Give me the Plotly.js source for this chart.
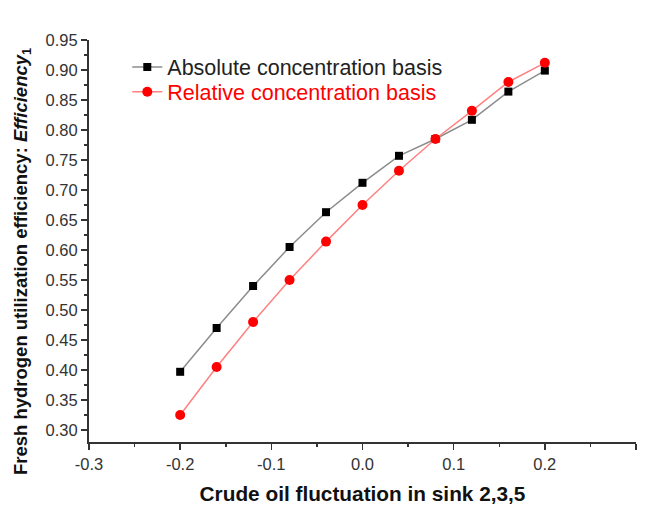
<!DOCTYPE html>
<html>
<head>
<meta charset="utf-8">
<script src="https://cdn.plot.ly/plotly-3.0.1.min.js"></script>
<style>
  html, body { margin: 0; padding: 0; background: #fff; }
  #chart { width: 647px; height: 511px; }
</style>
</head>
<body>
<div id="chart"></div>
<script>
const xValues = [-0.2, -0.16, -0.12, -0.08, -0.04, 0, 0.04, 0.08, 0.12, 0.16, 0.2];
const absoluteBasis = [0.397, 0.470, 0.540, 0.605, 0.663, 0.712, 0.757, 0.785, 0.817, 0.864, 0.899];
const relativeBasis = [0.325, 0.405, 0.480, 0.550, 0.614, 0.675, 0.732, 0.785, 0.832, 0.880, 0.912];
const seriesNames = ['Absolute concentration basis', 'Relative concentration basis'];
const xTickValues = [-0.3, -0.2, -0.1, 0, 0.1, 0.2, 0.3];
const xTickLabels = ['-0.3', '-0.2', '-0.1', '0.0', '0.1', '0.2', '0.3'];
const xTitle = 'Crude oil fluctuation in sink 2,3,5';
const yTitle = '<b>Fresh hydrogen utilization efficiency: <i>Efficiency</i><sub>1</sub></b>';

const FONT = 'Arial, "Liberation Sans", sans-serif';

const traces = [
  {
    x: xValues, y: absoluteBasis, type: 'scatter', mode: 'lines+markers',
    name: seriesNames[0], legend: 'legend',
    line: { color: '#8c8c8c', width: 1.5 },
    marker: { symbol: 'square', size: 8, color: '#000000' }
  },
  {
    x: xValues, y: relativeBasis, type: 'scatter', mode: 'lines+markers',
    name: seriesNames[1], legend: 'legend2',
    line: { color: '#ff8080', width: 1.5 },
    marker: { symbol: 'circle', size: 10, color: '#ff0000' }
  }
];

const axisCommon = {
  showgrid: false, zeroline: false, showline: true,
  linecolor: '#333', linewidth: 2,
  ticks: 'outside', ticklen: 6, tickwidth: 1.5, tickcolor: '#333',
  tickfont: { family: FONT, size: 16.5, color: '#333' }
};

const legendCommon = {
  x: 0.07, xanchor: 'left', yanchor: 'middle',
  bgcolor: 'rgba(0,0,0,0)', borderwidth: 0
};

const layout = {
  width: 647, height: 511,
  margin: { l: 89, r: 11, t: 40, b: 69 },
  paper_bgcolor: '#fff', plot_bgcolor: '#fff',
  font: { family: FONT },
  showlegend: true,
  legend: Object.assign({}, legendCommon, {
    y: 0.933, font: { family: FONT, size: 21.5, color: '#222' }
  }),
  legend2: Object.assign({}, legendCommon, {
    y: 0.871, font: { family: FONT, size: 21.5, color: '#ff0000' }
  }),
  xaxis: Object.assign({}, axisCommon, {
    range: [-0.3, 0.3], tickmode: 'array', tickvals: xTickValues, ticktext: xTickLabels,
    minor: { dtick: 0.05, tick0: -0.3, ticks: 'outside', ticklen: 3, tickwidth: 1.5, tickcolor: '#333', showgrid: false },
    title: { text: '<b>' + xTitle + '</b>', font: { family: FONT, size: 20.8, color: '#111' }, standoff: 15 }
  }),
  yaxis: Object.assign({}, axisCommon, {
    range: [0.28, 0.95], tick0: 0.3, dtick: 0.05, tickformat: '.2f',
    minor: { dtick: 0.025, ticks: 'outside', ticklen: 3, tickwidth: 1.5, tickcolor: '#333', showgrid: false }
  }),
  annotations: [{
    text: yTitle, xref: 'paper', yref: 'paper',
    x: -0.1225, y: 0.45, xanchor: 'center', yanchor: 'middle',
    textangle: -90, showarrow: false,
    font: { family: FONT, size: 18.5, color: '#111' }
  }]
};

Plotly.newPlot('chart', traces, layout, { displayModeBar: false, staticPlot: true });
</script>
</body>
</html>
